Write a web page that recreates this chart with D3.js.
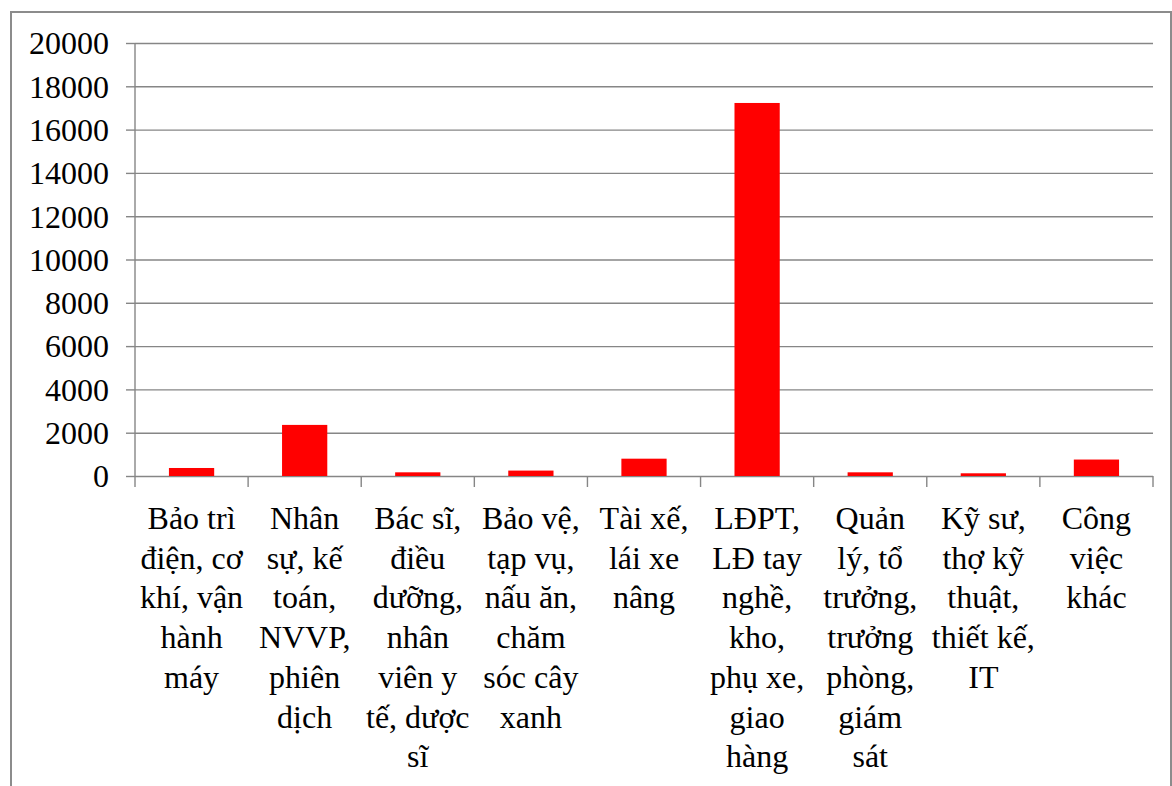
<!DOCTYPE html>
<html>
<head>
<meta charset="utf-8">
<script src="https://cdn.jsdelivr.net/npm/d3@7"></script>
<style>
  body { margin: 0; background: #fff; }
  svg text { font-family: "Times New Roman", "Liberation Serif", "DejaVu Serif", serif; fill: #000; }
</style>
</head>
<body>
<div id="chart"></div>
<script>
var categories = [
  'Bảo trì\nđiện, cơ\nkhí, vận\nhành\nmáy',
  'Nhân\nsự, kế\ntoán,\nNVVP,\nphiên\ndịch',
  'Bác sĩ,\nđiều\ndưỡng,\nnhân\nviên y\ntế, dược\nsĩ',
  'Bảo vệ,\ntạp vụ,\nnấu ăn,\nchăm\nsóc cây\nxanh',
  'Tài xế,\nlái xe\nnâng',
  'LĐPT,\nLĐ tay\nnghề,\nkho,\nphụ xe,\ngiao\nhàng',
  'Quản\nlý, tổ\ntrưởng,\ntrưởng\nphòng,\ngiám\nsát',
  'Kỹ sư,\nthợ kỹ\nthuật,\nthiết kế,\nIT',
  'Công\nviệc\nkhác'
]
var values = [370, 2360, 170, 250, 800, 17230, 170, 125, 760]
var yTicks = [0, 2000, 4000, 6000, 8000, 10000, 12000, 14000, 16000, 18000, 20000]

var W = 1172, H = 786
var grid = '#868686'
var font = '"Times New Roman", "Liberation Serif", "DejaVu Serif", serif'

var svg = d3.select('#chart').append('svg')
  .attr('width', W).attr('height', H)
  .attr('font-family', font)

// chart border
svg.append('rect')
  .attr('x', 11).attr('y', 12)
  .attr('width', W - 12).attr('height', H + 20)
  .attr('fill', 'none').attr('stroke', '#8c8c8c').attr('stroke-width', 2)

var x = d3.scaleBand()
  .domain(categories)
  .range([135, 1153])
  .paddingInner(0.6)
  .paddingOuter(0.3)

var y = d3.scaleLinear()
  .domain([0, 20000])
  .range([476, 43])

// gridlines + y labels
var yAxis = svg.append('g')
  .attr('transform', 'translate(135,0)')
  .call(d3.axisLeft(y).tickValues(yTicks).tickSize(9).tickPadding(17)
    .tickFormat(d3.format('d')))
  .attr('font-family', font)
  .attr('font-size', 32)
yAxis.select('.domain').remove()
yAxis.selectAll('.tick line').attr('stroke', grid).attr('stroke-width', 1.4)
yAxis.selectAll('.tick').append('line')
  .attr('x2', 1153 - 135)
  .attr('stroke', grid).attr('stroke-width', 1.4)
yAxis.selectAll('.tick text')
  .attr('dy', '0.34em')
  .attr('fill', '#000')

// y axis line
svg.append('line')
  .attr('x1', 135).attr('x2', 135)
  .attr('y1', y(20000)).attr('y2', y(0))
  .attr('stroke', grid).attr('stroke-width', 1.4)

// bars
svg.selectAll('rect.bar')
  .data(values)
  .join('rect')
  .attr('class', 'bar')
  .attr('x', (d, i) => x(categories[i]))
  .attr('width', x.bandwidth())
  .attr('y', d => y(d))
  .attr('height', d => y(0) - y(d))
  .attr('fill', '#ff0000')

// category ticks at band boundaries
var step = x.step()
var bounds = d3.range(categories.length + 1).map(i => 135 + i * step)
svg.selectAll('line.ctick')
  .data(bounds)
  .join('line')
  .attr('x1', d => d).attr('x2', d => d)
  .attr('y1', y(0)).attr('y2', y(0) + 11)
  .attr('stroke', grid).attr('stroke-width', 1.4)

// category labels
svg.selectAll('text.cat')
  .data(categories)
  .join('text')
  .attr('class', 'cat')
  .attr('font-size', 32)
  .attr('text-anchor', 'middle')
  .each(function(d) {
    var cx = x(d) + x.bandwidth() / 2
    d3.select(this).selectAll('tspan')
      .data(d.split('\n'))
      .join('tspan')
      .attr('x', cx)
      .attr('y', (t, j) => 529 + j * 39.7)
      .text(t => t)
  })
</script>
</body>
</html>
